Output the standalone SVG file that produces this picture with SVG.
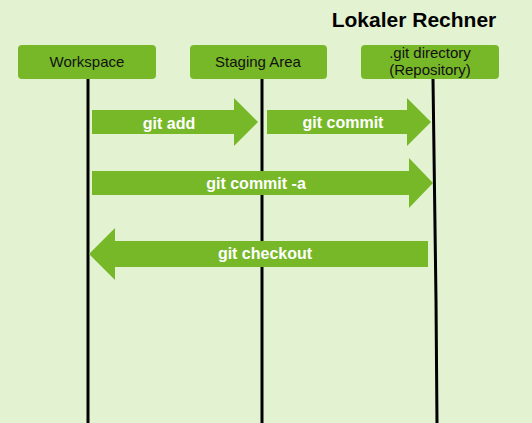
<svg xmlns="http://www.w3.org/2000/svg" width="532" height="423" viewBox="0 0 532 423">
<style>
.box{fill:#77b829}
.nt{font-family:"Liberation Sans",Arial,sans-serif;font-size:15px;fill:#111;text-anchor:middle}
.arr{fill:#77b829}
.at{font-family:"Liberation Sans",Arial,sans-serif;font-size:16px;font-weight:bold;fill:#fff;text-anchor:middle}
.ll{stroke:#000;stroke-width:3;fill:none}
</style>
<rect width="532" height="423" fill="#e3f3d2"/>
<text x="414" y="27" font-family="Liberation Sans,Arial,sans-serif" font-size="21" font-weight="bold" text-anchor="middle" fill="#000">Lokaler Rechner</text>
<g id="lifelines">
<path class="ll" d="M88,79 V423"/>
<path class="ll" d="M262,79 V423"/>
<path class="ll" d="M433,79 L436,300 L437,423"/>
</g>
<g id="workspace"><rect class="box" x="18" y="45" width="138" height="34" rx="4"/><text class="nt" x="87" y="67">Workspace</text></g>
<g id="staging"><rect class="box" x="190" y="45" width="137" height="34" rx="4"/><text class="nt" x="258" y="67">Staging Area</text></g>
<g id="repo"><rect class="box" x="361" y="45" width="138" height="34" rx="4"/><text class="nt" x="430" y="58">.git directory</text><text class="nt" x="430" y="75">(Repository)</text></g>
<g id="connectors">
<polygon class="arr" points="92,110 234,110 234,98 258,122 234,146 234,134 92,134"/>
<text class="at" x="169" y="129">git add</text>
<polygon class="arr" points="267,110 407,110 407,98 431,122 407,146 407,134 267,134"/>
<text class="at" x="343" y="128">git commit</text>
<polygon class="arr" points="92,171 409,171 409,158 433,183 409,208 409,195 92,195"/>
<text class="at" x="256" y="189">git commit -a</text>
<polygon class="arr" points="428,241 115,241 115,228 89,254 115,280 115,267 428,267"/>
<text class="at" x="265" y="259">git checkout</text>
</g>
</svg>
